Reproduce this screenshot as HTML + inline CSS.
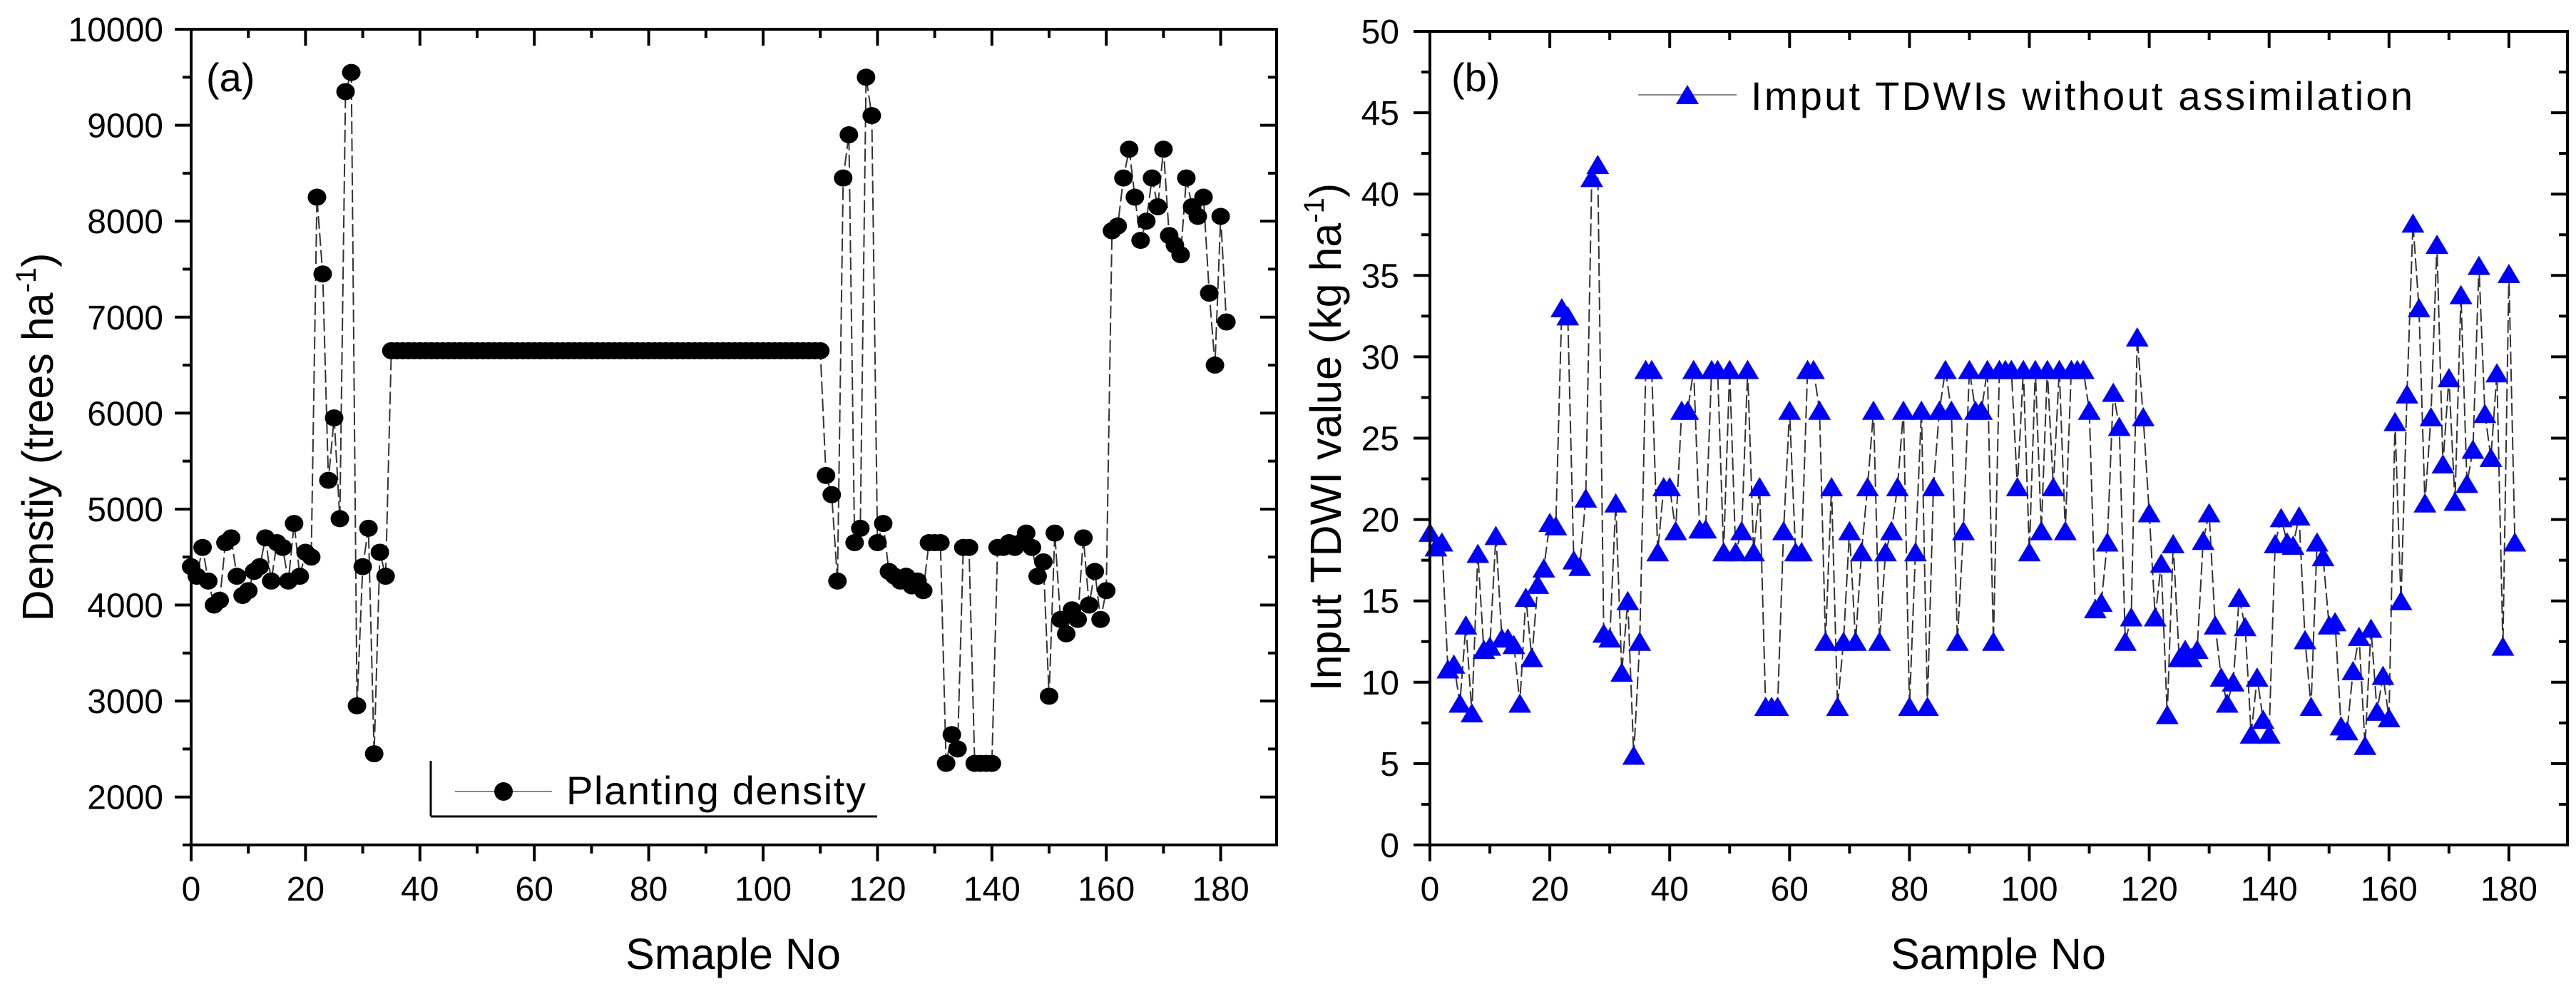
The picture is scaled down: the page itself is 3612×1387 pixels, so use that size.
<!DOCTYPE html>
<html><head><meta charset="utf-8"><style>
html,body{margin:0;padding:0;background:#fff;}
svg text{font-family:"Liberation Sans",Arial,sans-serif;fill:#000;}
</style></head><body>
<svg id="fig" width="3612" height="1382" viewBox="0 0 3612 1382" xmlns="http://www.w3.org/2000/svg">
<g id="pa"></g>
<g id="pb"></g>
</svg>
<script>
const densityValues = [4400,4300,4600,4250,4000,4050,4650,4700,4300,4100,4150,4350,4400,4700,4250,4650,4600,4250,4850,4300,4550,4500,8250,7450,5300,5950,4900,9350,9550,2950,4400,4800,2450,4550,4300,
6650,6650,6650,6650,6650,6650,6650,6650,6650,6650,
6650,6650,6650,6650,6650,6650,6650,6650,6650,6650,
6650,6650,6650,6650,6650,6650,6650,6650,6650,6650,
6650,6650,6650,6650,6650,6650,6650,6650,6650,6650,
6650,6650,6650,6650,6650,6650,6650,6650,6650,6650,
6650,6650,6650,6650,6650,6650,6650,6650,6650,6650,
6650,6650,6650,6650,6650,6650,6650,6650,6650,6650,
6650,6650,6650,6650,6650,6650,
5350,5150,4250,8450,8900,4650,4800,9500,9100,4650,4850,4350,4300,4250,4300,4200,4250,4150,4650,4650,4650,2350,2650,2500,4600,4600,2350,2350,2350,2350,4600,4600,4650,4600,4650,4750,4600,4300,4450,3050,4750,3850,3700,3950,3850,4700,4000,4350,3850,4150,7900,7950,8450,8750,8250,7800,8000,8450,8150,8750,7850,7750,7650,8450,8150,8050,8250,7250,6500,8050,6950];
const tdwiValues = [19.2,18.3,18.6,10.8,11.1,8.7,13.5,8.1,17.9,12.0,12.2,19.0,12.7,12.7,12.3,8.7,15.2,11.5,16.0,17.0,19.8,19.6,33.0,32.5,17.5,17.1,21.3,41.0,41.8,13.0,12.7,21.0,10.6,15.0,5.5,12.5,29.2,29.2,18.0,22.0,22.0,19.3,26.7,26.7,29.2,19.4,19.4,29.2,29.2,18.0,29.2,18.0,19.3,29.2,18.0,22.0,8.5,8.5,8.5,19.3,26.7,18.0,18.0,29.2,29.2,26.7,12.5,22.0,8.5,12.5,19.3,12.5,18.0,22.0,26.7,12.5,18.0,19.3,22.0,26.7,8.5,18.0,26.7,8.5,22.0,26.7,29.2,26.7,12.5,19.3,29.2,26.7,26.7,29.2,12.5,29.2,29.2,29.2,22.0,29.2,18.0,29.2,19.3,29.2,22.0,29.2,19.3,29.2,29.2,29.2,26.7,14.5,14.9,18.6,27.8,25.7,12.5,14.0,31.2,26.3,20.4,14.0,17.3,8.0,18.5,11.5,12.0,11.5,12.0,18.7,20.4,13.5,10.3,8.7,10.0,15.2,13.4,6.8,10.3,7.7,6.8,18.5,20.1,18.6,18.4,20.2,12.6,8.5,18.6,17.7,13.5,13.7,7.3,7.0,10.7,12.8,6.1,13.3,8.2,10.4,7.8,26.0,15.0,27.7,38.2,33.0,21.0,26.3,36.9,23.4,28.7,21.1,33.8,22.2,24.3,35.6,26.5,23.8,29.0,12.2,35.1,18.6];
const xTicks = [0,20,40,60,80,100,120,140,160,180];
const densityTicks = [2000,3000,4000,5000,6000,7000,8000,9000,10000];
const tdwiTicks = [0,5,10,15,20,25,30,35,40,45,50];

const NS="http://www.w3.org/2000/svg";
function mk(parent,tag,attrs){const e=document.createElementNS(NS,tag);for(const k in attrs)e.setAttribute(k,attrs[k]);parent.appendChild(e);return e;}

function panel(g,cfg){
  const {L,R,T,B,xmin,xmax,ymin,ymax,ticksY,minorY,minorX}=cfg;
  const sx=v=>L+(v-xmin)/(xmax-xmin)*(R-L);
  const sy=v=>B-(v-ymin)/(ymax-ymin)*(B-T);
  let d="";cfg.values.forEach((v,i)=>{d+=(i?"L":"M")+sx(i).toFixed(1)+","+sy(v).toFixed(1);});
  const line=mk(g,"path",{d:d,fill:"none",stroke:"#333","stroke-width":"2","stroke-dasharray":"18 6"});
  
  
  cfg.values.forEach((v,i)=>{
    let m;
    const x=sx(i),y=sy(v);
    if(cfg.marker==="circle"){m=mk(g,"ellipse",{cx:x,cy:y,rx:13,ry:12,fill:"#000"});}
    else{m=mk(g,"polygon",{points:`${x-16},${y+13} ${x+16},${y+13} ${x},${y-14}`,fill:"#0000ff"});}
    
    
  });
  const fr=mk(g,"rect",{x:L,y:T,width:R-L,height:B-T,fill:"none",stroke:"#000","stroke-width":"4"});
  
  
  for(let v=xmin;v<=xmax+0.01;v+=minorX){
    const major=Math.abs(v%20)<0.01;
    const x=sx(v);
    mk(g,"line",{x1:x,y1:B,x2:x,y2:B+(major?23:12),stroke:"#000","stroke-width":"4"});
    mk(g,"line",{x1:x,y1:T,x2:x,y2:T+(major?23:12),stroke:"#000","stroke-width":"4"});
  }
  xTicks.forEach(v=>{const t=mk(g,"text",{x:sx(v),y:1263,"font-size":"48","text-anchor":"middle"});t.textContent=v;
    
    });
  for(let v=ymin;v<=ymax+0.001;v+=minorY){
    const y=sy(v);const major=ticksY.some(t=>Math.abs(t-v)<1e-6);
    mk(g,"line",{x1:L,y1:y,x2:L-(major?23:12),y2:y,stroke:"#000","stroke-width":"4"});
    mk(g,"line",{x1:R,y1:y,x2:R-(major?23:12),y2:y,stroke:"#000","stroke-width":"4"});
  }
  ticksY.forEach(v=>{const t=mk(g,"text",{x:cfg.labX,y:sy(v)+17,"font-size":"48","text-anchor":"end"});t.textContent=v;
    
    });
}

panel(document.getElementById('pa'),{L:268,R:1790,T:41,B:1185,xmin:0,xmax:(1790-268)/8.02,ymin:1500,ymax:10000,ticksY:densityTicks,minorY:500,minorX:10,values:densityValues,marker:"circle",labX:229});
panel(document.getElementById('pb'),{L:2005,R:3600,T:44,B:1185,xmin:0,xmax:(3600-2005)/8.405,ymin:0,ymax:50,ticksY:tdwiTicks,minorY:2.5,minorX:10,values:tdwiValues,marker:"tri",labX:1962});
</script>
<svg style="position:absolute;left:0;top:0" width="3612" height="1382">
<text x="289" y="128" font-size="56">(a)</text>
<text x="2035" y="128" font-size="56">(b)</text>
<text x="1028" y="1359" font-size="61" text-anchor="middle">Smaple No</text>
<text x="2802" y="1359" font-size="61" text-anchor="middle">Sample No</text>
<text transform="translate(74,613) rotate(-90)" font-size="61" text-anchor="middle">Denstiy (trees ha<tspan font-size="40" dy="-24">-1</tspan><tspan dy="24">)</tspan></text>
<text transform="translate(1880,613) rotate(-90)" font-size="61" text-anchor="middle">Input TDWI value (kg ha<tspan font-size="40" dy="-24">-1</tspan><tspan dy="24">)</tspan></text>
<g>
<line x1="604" y1="1067" x2="604" y2="1145" stroke="#000" stroke-width="3"/>
<line x1="604" y1="1145" x2="1230" y2="1145" stroke="#000" stroke-width="3"/>
<line x1="638" y1="1110" x2="774" y2="1110" stroke="#888" stroke-width="2"/>
<ellipse cx="706" cy="1110" rx="13" ry="13" fill="#000"/>
<text x="794" y="1128" font-size="56" textLength="420">Planting density</text>
</g>
<g>
<line x1="2297" y1="133" x2="2435" y2="133" stroke="#888" stroke-width="2"/>
<polygon points="2350,146 2382,146 2366,119" fill="#0000ff"/>
<text x="2455" y="154" font-size="56" textLength="928">Imput TDWIs without assimilation</text>
</g>
</svg>
</body></html>
